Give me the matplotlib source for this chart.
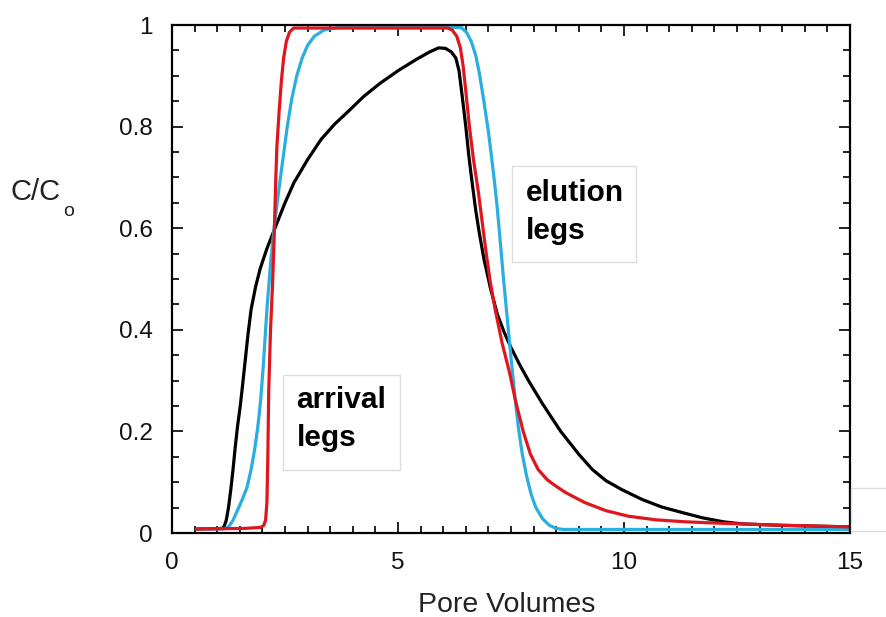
import matplotlib
matplotlib.use("Agg")
import matplotlib.pyplot as plt
from matplotlib.patches import Rectangle
from matplotlib.ticker import MultipleLocator

plt.rcParams['font.family'] = ['Liberation Sans', 'DejaVu Sans']

black_x = [0.55, 1.1, 1.15, 1.2, 1.25, 1.3, 1.35, 1.4, 1.45, 1.51, 1.56, 1.62, 1.68, 1.75, 1.85,
           1.95, 2.1, 2.3, 2.5, 2.7, 3.0, 3.3, 3.6, 3.9, 4.25, 4.6, 5.0, 5.4, 5.7, 5.9, 6.05,
           6.18, 6.28, 6.35, 6.42, 6.5, 6.57, 6.64, 6.72, 6.8, 6.9, 7.05, 7.2, 7.35, 7.5, 7.7,
           7.9, 8.2, 8.6, 9.0, 9.3, 9.6, 9.96, 10.4, 10.84, 11.3, 11.73, 12.2, 12.6, 13.5, 15.0]
black_y = [0.008, 0.009, 0.012, 0.025, 0.05, 0.085, 0.125, 0.17, 0.21, 0.25, 0.29, 0.34, 0.39, 0.44, 0.485,
           0.52, 0.56, 0.605, 0.65, 0.69, 0.735, 0.775, 0.805, 0.83, 0.86, 0.885, 0.91, 0.932, 0.947, 0.955, 0.954,
           0.947, 0.935, 0.91, 0.86, 0.8, 0.74, 0.69, 0.635, 0.59, 0.54, 0.48, 0.43, 0.395, 0.365, 0.33,
           0.298, 0.254, 0.2, 0.155, 0.125, 0.103, 0.085, 0.066, 0.051, 0.04, 0.03, 0.022, 0.018, 0.015, 0.012]

blue_x = [0.55, 1.15, 1.25, 1.35, 1.45, 1.55, 1.66, 1.75, 1.83, 1.9, 1.96, 2.02, 2.1, 2.18, 2.27,
          2.37, 2.46, 2.55, 2.65, 2.76, 2.88, 3.0, 3.15, 3.36, 3.66, 6.4, 6.52, 6.62, 6.72, 6.8,
          6.9, 7.0, 7.07, 7.13, 7.19, 7.24, 7.29, 7.34, 7.42, 7.5, 7.58, 7.66, 7.75, 7.85, 7.95,
          8.05, 8.2, 8.35, 8.5, 8.65, 15.0]
blue_y = [0.008, 0.008, 0.012, 0.025, 0.045, 0.065, 0.09, 0.125, 0.165, 0.21, 0.26, 0.33, 0.44, 0.53, 0.61,
          0.68, 0.74, 0.80, 0.855, 0.9, 0.935, 0.96, 0.978, 0.99, 0.995, 0.995, 0.985, 0.968, 0.94, 0.905,
          0.85, 0.79, 0.74, 0.695, 0.645, 0.596, 0.545, 0.495, 0.42, 0.345, 0.275, 0.21, 0.155, 0.11, 0.075,
          0.05, 0.028, 0.015, 0.009, 0.007, 0.007]

red_x = [0.55, 1.6, 1.96, 2.03, 2.07, 2.1, 2.12, 2.14, 2.18, 2.22, 2.26, 2.29, 2.32, 2.37, 2.42,
         2.47, 2.53, 2.6, 2.69, 6.1, 6.2, 6.3, 6.38, 6.44, 6.5, 6.58, 6.67, 6.78, 6.88, 6.96,
         7.04, 7.15, 7.3, 7.47, 7.6, 7.77, 7.93, 8.1, 8.3, 8.45, 8.7, 9.13, 9.6, 10.1, 10.7,
         11.36, 12.2, 13.2, 15.0]
red_y = [0.008, 0.009, 0.011, 0.015, 0.025, 0.06, 0.15, 0.28, 0.40, 0.48, 0.58, 0.68, 0.76, 0.83, 0.89,
         0.935, 0.968, 0.986, 0.994, 0.994, 0.99, 0.978, 0.955, 0.92, 0.87, 0.8, 0.735, 0.67, 0.6, 0.545,
         0.495, 0.44, 0.375, 0.315, 0.26, 0.2, 0.155, 0.125, 0.105, 0.095, 0.08, 0.06, 0.044, 0.033, 0.026,
         0.022, 0.019, 0.016, 0.012]

x_ticks = [0, 5, 10, 15]
y_ticks = [0, 0.2, 0.4, 0.6, 0.8, 1]
y_tick_labels = ['0', '0.2', '0.4', '0.6', '0.8', '1']

fig = plt.figure(figsize=(8.86, 6.17), dpi=100)
ax = fig.add_axes([172/886, 1-533/617, (850-172)/886, (533-25)/617])

kw = dict(lw=2.3, solid_capstyle='round', solid_joinstyle='round')
ax.plot(black_x, black_y, color='#000000', **kw)
ax.plot(blue_x, blue_y, color='#2aaee0', **kw)
ax.plot(red_x, red_y, color='#e0161f', **kw)

ax.set_xlim(0, 15)
ax.set_ylim(0, 1)
ax.set_xticks(x_ticks)
ax.set_xticklabels([str(t) for t in x_ticks])
ax.set_yticks(y_ticks)
ax.set_yticklabels(y_tick_labels)
ax.xaxis.set_minor_locator(MultipleLocator(0.5))
ax.yaxis.set_minor_locator(MultipleLocator(0.05))
ax.tick_params(which='both', direction='in', top=True, right=True, width=1.3, labelsize=17.5,
               colors='#111111')
ax.tick_params(which='major', length=8)
ax.tick_params(which='minor', length=5)
ax.tick_params(axis='x', pad=14)
ax.tick_params(axis='y', pad=14)
for s in ax.spines.values():
    s.set_linewidth(1.6)

fig.text(418/886, 1-605/617, 'Pore Volumes', fontsize=20.5, va='center', ha='left', color='#222222')
fig.text(10/886, 1-192/617, 'C/C', fontsize=21, va='center', ha='left', color='#222222')
fig.text(63/886, 1-212/617, 'o', fontsize=14, va='center', ha='left', color='#222222')

# annotation boxes
for (x0, y0, x1, y1) in [(283, 375, 400, 470), (512, 166, 636, 262), (851, 488, 900, 531)]:
    fig.patches.append(Rectangle((x0/886, 1-y1/617), (x1-x0)/886, (y1-y0)/617,
                                 transform=fig.transFigure, fill=False,
                                 edgecolor='#dddddd', lw=1.0, zorder=0))

tk = dict(fontsize=21.5, fontweight='bold', ha='left', va='center')
ax.text((296-172)/45, (533-400)/508, 'arrival', **tk)
ax.text((296-172)/45, (533-438)/508, 'legs', **tk)
ax.text((524-172)/45, (533-193)/508, 'elution', **tk)
ax.text((524-172)/45, (533-231)/508, 'legs', **tk)

fig.savefig('out.png', dpi=100)
